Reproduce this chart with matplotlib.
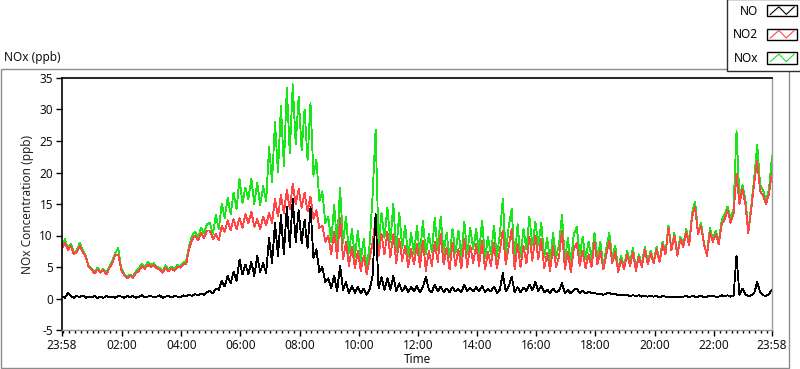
import numpy as np
import matplotlib
matplotlib.use("Agg")
import matplotlib.pyplot as plt
from matplotlib.legend_handler import HandlerBase
from matplotlib.patches import Rectangle
from matplotlib.lines import Line2D

plt.rcParams['font.family'] = ['Noto Sans', 'DejaVu Sans']

# ---------------- data (one sample every 6 minutes from 23:58) ----------------
step_minutes = 6

no2 = [8.0, 8.8, 7.7, 8.4, 7.0, 7.4, 8.4, 7.4, 6.6, 5.0,
       4.6, 4.0, 4.6, 4.1, 4.5, 3.8, 4.8, 5.6, 6.9, 7.0,
       4.6, 3.7, 3.2, 3.6, 3.3, 4.0, 4.4, 5.2, 4.7, 5.4,
       5.0, 5.3, 4.8, 4.6, 4.1, 4.9, 4.3, 4.8, 4.4, 5.0,
       4.9, 5.4, 5.5, 8.0, 9.3, 10.0, 9.2, 10.4, 9.6, 10.8,
       10.8, 9.4, 10.2, 9.2, 11.6, 10.6, 12.4, 10.8, 12.6, 11.0,
       12.8, 11.2, 13.4, 12.0, 13.8, 11.4, 12.6, 11.0, 13.0, 11.6,
       13.6, 12.0, 15.8, 13.0, 16.4, 13.6, 17.2, 14.2, 18.2, 15.0,
       17.4, 14.4, 16.8, 13.8, 16.2, 12.6, 14.0, 11.2, 11.6, 9.0,
       10.0, 7.0, 10.6, 6.4, 12.8, 6.2, 9.0, 5.2, 8.2, 4.8,
       7.6, 4.4, 6.8, 3.9, 6.2, 9.0, 12.4, 6.8, 10.2, 7.0,
       10.6, 6.6, 10.2, 5.6, 9.4, 6.0, 8.4, 5.0, 7.8, 5.4,
       8.6, 5.0, 9.2, 4.4, 7.6, 5.2, 9.0, 5.8, 10.2, 5.4,
       8.0, 4.6, 8.8, 5.2, 7.8, 4.8, 9.4, 5.0, 8.4, 5.6,
       8.6, 5.2, 9.2, 4.6, 7.4, 5.2, 8.8, 4.8, 7.6, 10.8,
       5.4, 8.2, 11.0, 4.6, 8.6, 5.0, 8.4, 5.6, 9.8, 6.0,
       10.0, 6.2, 9.4, 4.8, 7.2, 4.4, 8.4, 5.0, 6.6, 10.8,
       4.6, 7.4, 4.2, 7.8, 8.8, 5.2, 7.6, 4.8, 7.0, 5.0,
       9.0, 5.4, 7.6, 4.6, 7.0, 9.2, 5.6, 7.4, 4.2, 6.2,
       4.6, 7.0, 5.2, 7.4, 4.4, 6.6, 5.0, 7.8, 5.4, 7.2,
       5.6, 7.8, 5.8, 8.6, 7.0, 11.2, 7.6, 10.0, 6.8, 9.4,
       8.2, 10.6, 8.4, 13.0, 14.6, 10.2, 11.6, 8.6, 6.8, 10.6,
       9.0, 10.2, 8.6, 11.8, 12.6, 14.0, 12.0, 13.4, 19.8, 15.0,
       17.4, 15.0, 10.4, 14.2, 18.4, 21.8, 17.0, 16.4, 15.0, 16.6, 20.0]

nox = [8.3, 9.4, 8.0, 8.7, 7.3, 7.6, 8.8, 7.7, 6.8, 5.2,
       4.8, 4.2, 4.9, 4.3, 4.7, 4.0, 5.1, 6.0, 7.2, 8.0,
       4.8, 3.9, 3.4, 3.8, 3.5, 4.3, 4.8, 5.5, 4.9, 5.8,
       5.3, 5.6, 5.0, 4.9, 4.3, 5.3, 4.5, 5.0, 4.7, 5.3,
       5.2, 5.7, 6.0, 8.4, 10.0, 10.6, 9.7, 11.2, 10.4, 11.8,
       12.0, 10.2, 13.2, 11.0, 15.0, 12.8, 16.0, 13.4, 16.8, 14.2,
       19.0, 15.2, 17.6, 15.8, 19.0, 15.0, 18.4, 14.8, 17.8, 15.4,
       24.0, 18.5, 28.0, 20.0, 30.5, 21.0, 33.5, 23.0, 34.0, 24.5,
       32.0, 23.5, 30.0, 22.0, 31.0, 19.5, 22.0, 15.5, 17.0, 12.0,
       13.0, 9.0, 14.8, 8.6, 17.6, 8.8, 13.0, 7.2, 11.0, 6.6,
       10.8, 6.0, 9.4, 4.8, 8.6, 16.5, 26.8, 8.6, 13.6, 9.6,
       14.4, 9.0, 15.0, 7.4, 13.6, 8.0, 11.6, 6.6, 10.4, 7.0,
       11.6, 6.6, 12.4, 7.0, 10.2, 7.4, 12.8, 7.6, 13.0, 7.2,
       10.4, 6.6, 11.0, 7.2, 10.8, 6.6, 12.2, 7.0, 11.2, 7.8,
       11.0, 7.2, 12.4, 6.4, 9.8, 7.0, 11.6, 6.6, 10.2, 15.8,
       7.0, 11.4, 14.2, 6.2, 11.8, 6.6, 11.0, 7.8, 13.0, 8.4,
       12.2, 8.4, 12.0, 6.6, 9.6, 5.8, 10.4, 6.4, 8.6, 13.2,
       6.0, 9.6, 5.6, 10.2, 11.4, 6.8, 9.8, 6.2, 9.0, 6.4,
       10.4, 6.4, 9.0, 5.2, 8.0, 10.4, 6.4, 8.4, 4.6, 6.8,
       5.0, 7.6, 5.8, 8.0, 4.8, 7.0, 5.4, 8.2, 5.8, 7.6,
       5.9, 8.2, 6.0, 9.0, 7.3, 11.6, 7.9, 10.4, 7.0, 9.8,
       8.6, 11.0, 8.8, 13.6, 15.4, 10.6, 12.0, 8.8, 7.0, 11.2,
       9.4, 10.8, 9.0, 12.4, 13.4, 14.6, 12.6, 14.2, 26.6, 16.0,
       18.0, 15.8, 10.8, 14.8, 19.2, 24.4, 18.0, 17.2, 15.6, 17.4, 22.6]

no = [0.3, 0.1, 0.9, 0.4, 0.1, 0.4, 0.2, 0.5, 0.1, 0.3,
      0.2, 0.4, 0.1, 0.3, 0.1, 0.4, 0.2, 0.3, 0.1, 0.4,
      0.3, 0.1, 0.4, 0.2, 0.4, 0.1, 0.3, 0.5, 0.2, 0.3,
      0.4, 0.2, 0.3, 0.5, 0.1, 0.3, 0.4, 0.2, 0.4, 0.3,
      0.2, 0.5, 0.3, 0.6, 0.4, 0.7, 0.5, 0.8, 0.6, 1.0,
      1.2, 0.8, 1.6, 1.4, 2.8, 1.9, 3.6, 2.4, 4.2, 2.8,
      6.2, 3.8, 5.4, 3.9, 5.8, 3.6, 6.8, 4.2, 5.6, 4.0,
      9.6, 5.6, 12.0, 6.8, 13.2, 7.0, 14.6, 8.2, 15.8, 9.0,
      14.0, 8.8, 12.5, 8.0, 14.5, 6.4, 7.8, 4.2, 5.0, 2.6,
      3.2, 1.6, 3.6, 1.2, 5.2, 1.4, 2.6, 0.8, 2.0, 0.9,
      1.8, 0.8, 1.6, 0.6, 1.4, 3.7, 13.4, 1.6, 3.4, 1.4,
      3.2, 1.4, 3.6, 1.2, 2.4, 1.1, 2.0, 1.0, 1.8, 1.2,
      2.0, 1.0, 1.8, 3.5, 1.4, 1.0, 2.2, 1.1, 1.9, 1.0,
      1.6, 1.0, 1.8, 1.1, 1.5, 1.0, 2.2, 1.2, 1.7, 1.1,
      1.8, 1.1, 2.0, 1.0, 1.5, 1.1, 1.9, 0.9, 1.4, 4.0,
      1.1, 1.9, 3.5, 1.0, 1.8, 1.0, 1.7, 1.2, 2.2, 1.3,
      2.6, 1.2, 2.0, 1.0, 1.4, 0.9, 1.6, 1.0, 1.2, 2.4,
      0.9, 1.3, 0.8, 1.4, 1.6, 0.9, 1.2, 0.8, 1.1, 0.8,
      0.9, 0.7, 0.8, 0.6, 0.8, 0.9, 0.7, 0.7, 0.5, 0.6,
      0.5, 0.6, 0.4, 0.5, 0.4, 0.5, 0.3, 0.4, 0.3, 0.4,
      0.3, 0.4, 0.2, 0.4, 0.3, 0.3, 0.2, 0.3, 0.2, 0.3,
      0.3, 0.4, 0.2, 0.4, 0.3, 0.3, 0.4, 0.2, 0.3, 0.4,
      0.4, 0.3, 0.3, 0.5, 0.4, 0.5, 0.3, 0.4, 6.8, 0.6,
      1.6, 0.6, 0.4, 0.5, 0.9, 2.6, 1.0, 0.5, 0.4, 0.7, 1.4]

series_names = ["NO", "NO2", "NOx"]
x_tick_labels = ["23:58", "02:00", "04:00", "06:00", "08:00", "10:00", "12:00",
                 "14:00", "16:00", "18:00", "20:00", "22:00", "23:58"]
y_ticks = [-5, 0, 5, 10, 15, 20, 25, 30, 35]

# ---------------- helpers ----------------
start_minute = 23 * 60 + 58


def label_minutes(lbl, idx, n):
    h, m = map(int, lbl.split(":"))
    rel = (h * 60 + m - start_minute) % 1440
    if idx == n - 1 and rel == 0:
        rel = 1440
    return rel


class BoxZigzagHandler(HandlerBase):
    def create_artists(self, legend, orig_handle, xdescent, ydescent,
                       width, height, fontsize, trans):
        x0, y0 = -xdescent, -ydescent
        box = Rectangle((x0, y0), width, height, facecolor="white",
                        edgecolor="black", linewidth=1.0, transform=trans)
        fx = np.array([0.12, 0.40, 0.64, 0.90])
        fy = np.array([0.18, 0.85, 0.18, 0.85])
        line = Line2D(x0 + fx * width, y0 + fy * height,
                      color=orig_handle.get_color(), linewidth=0.8,
                      transform=trans)
        return [box, line]


# ---------------- figure ----------------
W, H = 800, 369
fig = plt.figure(figsize=(W / 100, H / 100), dpi=100)
fig.patch.set_facecolor("white")

# outer frame
fig.patches.append(Rectangle((0.5 / W, 1 - 368 / H), 788 / W, (368 - 69) / H,
                             transform=fig.transFigure, fill=False,
                             edgecolor="#8c8c8c", linewidth=1.0, zorder=0))

ax = fig.add_axes([62 / W, 1 - 330 / H, 710 / W, 252 / H])

n_pts = min(len(no), len(no2), len(nox))
minutes = np.arange(n_pts) * step_minutes
l_nox, = ax.plot(minutes, nox[:n_pts], color="#19e619", lw=0.6, antialiased=False)
l_no2, = ax.plot(minutes, no2[:n_pts], color="#ff4545", lw=0.6, antialiased=False)
l_no, = ax.plot(minutes, no[:n_pts], color="black", lw=0.6, antialiased=False)

ax.set_xlim(0, 1440)
ax.set_ylim(-5, 35)

n = len(x_tick_labels)
xt = [label_minutes(l, i, n) for i, l in enumerate(x_tick_labels)]
ax.set_xticks(xt)
ax.set_xticklabels(x_tick_labels)
ax.set_xticks(np.arange(xt[1] % 12, 1441, 12), minor=True)
ax.set_yticks(y_ticks)
ax.set_yticklabels([str(v) for v in y_ticks])

ax.tick_params(axis="both", which="major", direction="out", length=4.5,
               width=1, color="black", labelsize=8.5, pad=2, labelcolor="#111111")
ax.tick_params(axis="x", which="minor", direction="out", length=2.5,
               width=1, color="black")

for side in ("left", "top"):
    ax.spines[side].set_color("black")
    ax.spines[side].set_linewidth(1.2)
for side in ("right", "bottom"):
    ax.spines[side].set_color("#9a9a9a")
    ax.spines[side].set_linewidth(1.0)

ax.set_xlabel("Time", fontsize=8.5, labelpad=1, color="#111111")
ax.set_ylabel("NOx Concentration (ppb)", fontsize=8.5, labelpad=4, color="#222222")

fig.text(4 / W, 1 - 57 / H, "NOx (ppb)", fontsize=8.5, va="center", ha="left",
         color="#111111")

leg = fig.legend(handles=[l_no, l_no2, l_nox], labels=series_names,
                 loc="upper right", bbox_to_anchor=(1.004, 1.003),
                 bbox_transform=fig.transFigure, markerfirst=False,
                 frameon=True, fancybox=False, framealpha=1,
                 edgecolor="#303030", borderpad=0.5, labelspacing=0.9,
                 handlelength=2.6, handleheight=1.1, handletextpad=0.7,
                 borderaxespad=0, fontsize=8.5,
                 handler_map={Line2D: BoxZigzagHandler()})
leg.get_frame().set_linewidth(1.0)

fig.savefig("out.png", dpi=100)
